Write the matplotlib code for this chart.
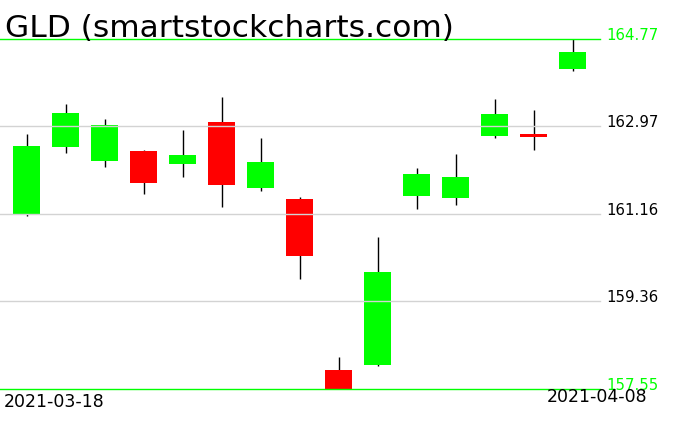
import numpy as np
import matplotlib.pyplot as plt

# daily OHLC
dates = ["2021-03-18", "2021-03-19", "2021-03-22", "2021-03-23", "2021-03-24",
         "2021-03-25", "2021-03-26", "2021-03-29", "2021-03-30", "2021-03-31",
         "2021-04-01", "2021-04-05", "2021-04-06", "2021-04-07", "2021-04-08"]
opens = [161.16, 162.54, 162.25, 162.46, 162.19, 163.06, 161.70, 161.47,
         157.94, 158.05, 161.53, 161.49, 162.77, 162.81, 164.15]
highs = [162.81, 163.43, 163.12, 162.48, 162.89, 163.57, 162.73, 161.51,
         158.21, 160.69, 162.11, 162.40, 163.53, 163.31, 164.77]
lows = [161.12, 162.42, 162.13, 161.57, 161.92, 161.30, 161.63, 159.82,
        157.55, 158.02, 161.26, 161.35, 162.73, 162.48, 164.11]
closes = [162.56, 163.24, 163.00, 161.80, 162.38, 161.76, 162.23, 160.29,
          157.56, 159.96, 161.99, 161.92, 163.22, 162.75, 164.50]
levels = [164.77, 162.97, 161.16, 159.36, 157.55]

W, H = 676, 431
fig = plt.figure(figsize=(W / 100, H / 100), dpi=100)
ax = fig.add_axes([0, 41 / H, 600 / W, 350 / H])
ax.axis("off")

o = np.array(opens)
c = np.array(closes)
x = np.arange(len(dates))
up = c >= o
cols = np.where(up, "#00ff00", "#ff0000")

# wicks then bodies
ax.vlines(x, lows, highs, color="black", linewidth=1.0, zorder=1)
ax.bar(x, np.abs(c - o), bottom=np.minimum(o, c), width=27 / 39,
       color=cols, linewidth=0, zorder=2)

ax.set_xlim(-26.5 / 39, (600 - 26.5) / 39)
ax.set_ylim(levels[-1], levels[0])

for i, lv in enumerate(levels):
    edge = i == 0 or i == len(levels) - 1
    col = "#00ff00" if edge else "#d3d3d3"
    ax.axhline(lv, color=col, linewidth=1.0, zorder=3, clip_on=False)
    ax.text(606 / 600, lv, f"{lv:.2f}", transform=ax.get_yaxis_transform(),
            color="#00ff00" if edge else "black", fontsize=10.8,
            ha="left", va="baseline")

fig.text(5 / W, 1 - 37 / H, "GLD (smartstockcharts.com)", fontsize=22.5,
         ha="left", va="baseline", color="black")
fig.text(4 / W, 1 - 407 / H, dates[0], fontsize=12.5, ha="left",
         va="baseline", color="black")
fig.text(647 / W, 1 - 402 / H, dates[-1], fontsize=12.5, ha="right",
         va="baseline", color="black")

fig.savefig("out.png", dpi=100, facecolor="white")
